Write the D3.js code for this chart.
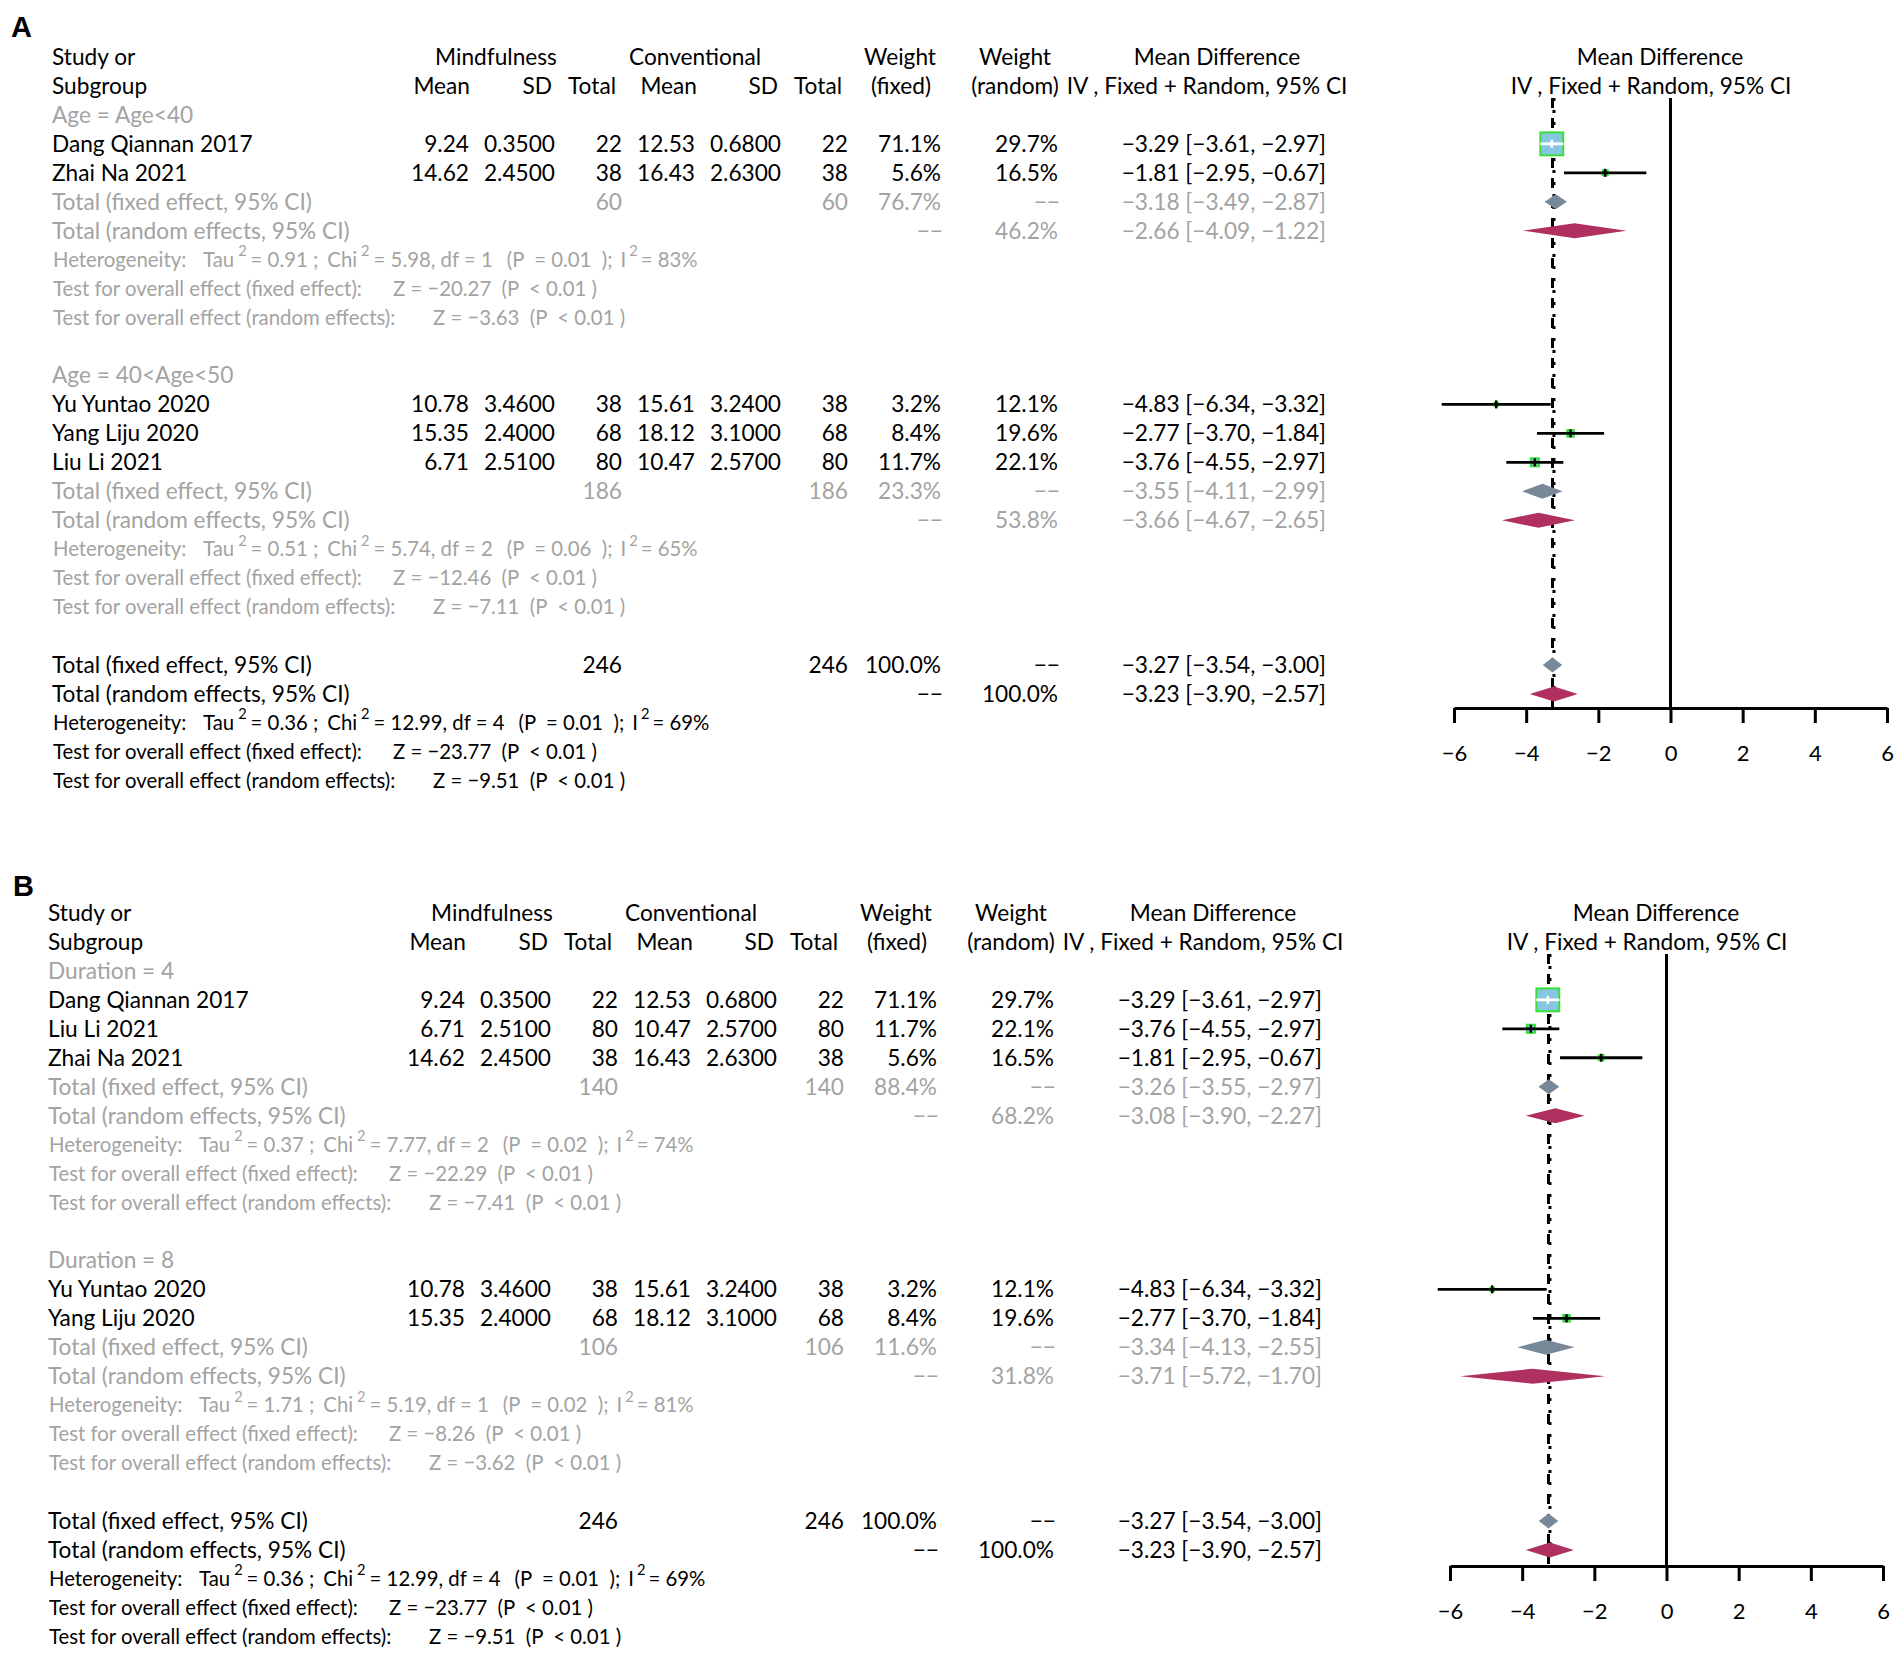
<!DOCTYPE html>
<html>
<head>
<meta charset="utf-8">
<script src="https://cdn.jsdelivr.net/npm/d3@7"></script>
<style>
  body { margin: 0; background: #fff; }
  svg { display: block; }
</style>
</head>
<body>
<svg id="chart"></svg>
<script>
// ---- study level data ----
const studies      = ["Dang Qiannan 2017", "Zhai Na 2021", "Yu Yuntao 2020", "Yang Liju 2020", "Liu Li 2021"];
const mindMean     = [9.24, 14.62, 10.78, 15.35, 6.71];
const mindSD       = [0.35, 2.45, 3.46, 2.40, 2.51];
const mindTotal    = [22, 38, 38, 68, 80];
const convMean     = [12.53, 16.43, 15.61, 18.12, 10.47];
const convSD       = [0.68, 2.63, 3.24, 3.10, 2.57];
const convTotal    = [22, 38, 38, 68, 80];
const weightFixed  = [71.1, 5.6, 3.2, 8.4, 11.7];
const weightRandom = [29.7, 16.5, 12.1, 19.6, 22.1];
const meanDiff     = [-3.29, -1.81, -4.83, -2.77, -3.76];
const ciLower      = [-3.61, -2.95, -6.34, -3.70, -4.55];
const ciUpper      = [-2.97, -0.67, -3.32, -1.84, -2.97];

// ---- panel A: subgroups by age ----
const groupLabelsA  = ["Age = Age<40", "Age = 40<Age<50"];
const groupMembersA = [[0, 1], [2, 3, 4]];
const groupTotalA   = [60, 186];
const groupWFixedA  = [76.7, 23.3];
const groupWRandomA = [46.2, 53.8];
const groupFixedA   = [[-3.18, -3.49, -2.87], [-3.55, -4.11, -2.99]];
const groupRandomA  = [[-2.66, -4.09, -1.22], [-3.66, -4.67, -2.65]];
const groupHetA     = [[0.91, 5.98, 1, 0.01, 83], [0.51, 5.74, 2, 0.06, 65]];
const groupZA       = [[-20.27, -3.63], [-12.46, -7.11]];

// ---- panel B: subgroups by duration ----
const groupLabelsB  = ["Duration = 4", "Duration = 8"];
const groupMembersB = [[0, 4, 1], [2, 3]];
const groupTotalB   = [140, 106];
const groupWFixedB  = [88.4, 11.6];
const groupWRandomB = [68.2, 31.8];
const groupFixedB   = [[-3.26, -3.55, -2.97], [-3.34, -4.13, -2.55]];
const groupRandomB  = [[-3.08, -3.90, -2.27], [-3.71, -5.72, -1.70]];
const groupHetB     = [[0.37, 7.77, 2, 0.02, 74], [1.71, 5.19, 1, 0.02, 81]];
const groupZB       = [[-22.29, -7.41], [-8.26, -3.62]];

// ---- overall (same in both panels) ----
const overallTotal  = 246;
const overallFixed  = [-3.27, -3.54, -3.00];
const overallRandom = [-3.23, -3.90, -2.57];
const overallHet    = [0.36, 12.99, 4, 0.01, 69];
const overallZ      = [-23.77, -9.51];

const xTicks = [-6, -4, -2, 0, 2, 4, 6];

// ---- setup ----
const W = 1904, H = 1654;
const svg = d3.select("#chart").attr("width", W).attr("height", H);
svg.append("rect").attr("width", W).attr("height", H).attr("fill", "#fff");

const FONT = "Lato, 'Open Sans', sans-serif";
const GREY = "#a3a3a3";
const ROW = 28.95;

// size the fonts so that line lengths match the original layout
function measure(str, size) {
    const t = svg.append("text").attr("font-family", FONT).attr("font-size", size)
        .style("white-space", "pre").text(str);
    const w = t.node().getComputedTextLength();
    t.remove();
    return w;
}
const mainSize  = 23 * 260 / measure("Total (fixed effect, 95% CI)", 23);
const smallSize = 18 * 309 / measure("Test for overall effect (fixed effect):", 18);
const supSize   = smallSize * 0.72;

const f2 = d3.format(".2f"), f4 = d3.format(".4f"), f1 = d3.format(".1f");
const pct = v => f1(v) + "%";
const ciText = (e, l, h) => `${f2(e)} [${f2(l)}, ${f2(h)}]`;

function drawPanel(p) {
    const g = svg.append("g").attr("transform", `translate(${p.dx},0)`);
    const rowY = i => p.top + i * ROW;

    const txt = (x, i, s, anchor, color, size) => g.append("text")
        .attr("x", x).attr("y", rowY(i)).attr("dy", "0.35em")
        .attr("text-anchor", anchor || "start")
        .attr("font-family", FONT)
        .attr("font-size", size || mainSize)
        .attr("fill", color || "#000")
        .style("white-space", "pre")
        .text(s);

    const x = d3.scaleLinear().domain([-6, 6]).range([1454, 1887]);

    // panel letter
    g.append("text").attr("x", p.letterX).attr("y", p.letterY)
        .attr("font-family", "'Liberation Sans', Arial, sans-serif")
        .attr("font-weight", "bold").attr("font-size", 29).text(p.letter);

    // header
    txt(52, 0, "Study or"); txt(52, 1, "Subgroup");
    txt(496, 0, "Mindfulness", "middle");
    txt(470, 1, "Mean", "end"); txt(552, 1, "SD", "end"); txt(616, 1, "Total", "end");
    txt(695, 0, "Conventional", "middle");
    txt(697, 1, "Mean", "end"); txt(778, 1, "SD", "end"); txt(842, 1, "Total", "end");
    txt(900, 0, "Weight", "middle"); txt(901, 1, "(fixed)", "middle");
    txt(1015, 0, "Weight", "middle"); txt(1015, 1, "(random)", "middle");
    txt(1217, 0, "Mean Difference", "middle");
    txt(1207, 1, "IV , Fixed + Random, 95% CI", "middle");
    txt(1660, 0, "Mean Difference", "middle");
    txt(1651, 1, "IV , Fixed + Random, 95% CI", "middle");

    const plotTop = rowY(0) + 41;
    const lines = g.append("g");
    const marks = g.append("g");

    const diamond = (est, lo, hi, i, fill) => marks.append("path")
        .attr("d", `M${x(lo)},${rowY(i)}L${x(est)},${rowY(i) - 7.5}L${x(hi)},${rowY(i)}L${x(est)},${rowY(i) + 7.5}Z`)
        .attr("fill", fill);

    // heterogeneity line, laid out piece by piece like the original
    const hetLine = (i, h, color) => {
        const pieces = [
            { s: "Heterogeneity:", at: 53 },
            { s: "Tau", at: 203 },
            { s: "2", gap: 4, sup: true },
            { s: `= ${f2(h[0])} ;`, gap: 4 },
            { s: "Chi", gap: 9 },
            { s: "2", gap: 4, sup: true },
            { s: `= ${f2(h[1])}, df = ${h[2]}`, gap: 4 },
            { s: `(P  = ${f2(h[3])}  );`, gap: 14 },
            { s: "I", gap: 8 },
            { s: "2", gap: 3, sup: true },
            { s: `= ${h[4]}%`, gap: 3 }
        ];
        let cx = 0;
        pieces.forEach(pc => {
            const size = pc.sup ? supSize : smallSize;
            const xx = pc.at !== undefined ? pc.at : cx + pc.gap;
            const el = g.append("text")
                .attr("x", xx)
                .attr("y", pc.sup ? rowY(i) - 0.42 * smallSize : rowY(i))
                .attr("dy", "0.35em")
                .attr("font-family", FONT).attr("font-size", size).attr("fill", color)
                .style("white-space", "pre").text(pc.s);
            cx = xx + el.node().getComputedTextLength();
        });
    };

    const testLines = (i, z, color) => {
        txt(53, i, "Test for overall effect (fixed effect):", "start", color, smallSize);
        txt(393, i, `Z = ${f2(z[0])}  (P  < 0.01 )`, "start", color, smallSize);
        txt(53, i + 1, "Test for overall effect (random effects):", "start", color, smallSize);
        txt(433, i + 1, `Z = ${f2(z[1])}  (P  < 0.01 )`, "start", color, smallSize);
    };

    let r = 2;
    p.groups.forEach((label, gi) => {
        txt(52, r, label, "start", GREY);
        r++;
        p.members[gi].forEach(s => {
            txt(52, r, studies[s]);
            txt(469, r, f2(mindMean[s]), "end");
            txt(555, r, f4(mindSD[s]), "end");
            txt(622, r, mindTotal[s], "end");
            txt(695, r, f2(convMean[s]), "end");
            txt(781, r, f4(convSD[s]), "end");
            txt(848, r, convTotal[s], "end");
            txt(941, r, pct(weightFixed[s]), "end");
            txt(1058, r, pct(weightRandom[s]), "end");
            txt(1326, r, ciText(meanDiff[s], ciLower[s], ciUpper[s]), "end");

            // study marker: box sized by fixed weight, CI whisker
            const y = rowY(r), size = 2.95 * Math.sqrt(weightFixed[s]);
            const x0 = x(ciLower[s]), x1 = x(ciUpper[s]), xc = x(meanDiff[s]);
            const inside = (x1 - x0) < size;
            marks.append("line").attr("x1", x0).attr("x2", x1).attr("y1", y).attr("y2", y)
                .attr("stroke", "#000").attr("stroke-width", 2.8);
            marks.append("rect").attr("x", xc - size / 2 + 1).attr("y", y - size / 2 + 1)
                .attr("width", Math.max(size - 2, 1)).attr("height", Math.max(size - 2, 1))
                .attr("fill", "#86c6e2").attr("stroke", "#36e036").attr("stroke-width", 2);
            const inner = inside ? "#fff" : "#000";
            marks.append("line").attr("x1", inside ? x0 : xc - size / 2).attr("x2", inside ? x1 : xc + size / 2)
                .attr("y1", y).attr("y2", y).attr("stroke", inner).attr("stroke-width", 2.8);
            marks.append("line").attr("x1", xc).attr("x2", xc).attr("y1", y - 4).attr("y2", y + 4)
                .attr("stroke", inner).attr("stroke-width", 2.5);
            r++;
        });
        const fx = p.fixed[gi], rd = p.random[gi];
        txt(52, r, "Total (fixed effect, 95% CI)", "start", GREY);
        txt(622, r, p.total[gi], "end", GREY);
        txt(848, r, p.total[gi], "end", GREY);
        txt(941, r, pct(p.wFixed[gi]), "end", GREY);
        txt(1060, r, "−−", "end", GREY);
        txt(1326, r, ciText(fx[0], fx[1], fx[2]), "end", GREY);
        diamond(fx[0], fx[1], fx[2], r, "#778899");
        r++;
        txt(52, r, "Total (random effects, 95% CI)", "start", GREY);
        txt(943, r, "−−", "end", GREY);
        txt(1058, r, pct(p.wRandom[gi]), "end", GREY);
        txt(1326, r, ciText(rd[0], rd[1], rd[2]), "end", GREY);
        diamond(rd[0], rd[1], rd[2], r, "#b03060");
        r++;
        hetLine(r, p.het[gi], GREY);
        r++;
        testLines(r, p.z[gi], GREY);
        r += 3;
    });

    // overall
    txt(52, r, "Total (fixed effect, 95% CI)");
    txt(622, r, overallTotal, "end");
    txt(848, r, overallTotal, "end");
    txt(941, r, "100.0%", "end");
    txt(1060, r, "−−", "end");
    txt(1326, r, ciText(...overallFixed), "end");
    diamond(...overallFixed, r, "#778899");
    r++;
    txt(52, r, "Total (random effects, 95% CI)");
    txt(943, r, "−−", "end");
    txt(1058, r, "100.0%", "end");
    txt(1326, r, ciText(...overallRandom), "end");
    diamond(...overallRandom, r, "#b03060");
    r++;
    hetLine(r, overallHet, "#000");
    r++;
    testLines(r, overallZ, "#000");

    // reference lines: zero, fixed (dashed), random (dotted)
    lines.append("line").attr("x1", x(0)).attr("x2", x(0)).attr("y1", plotTop).attr("y2", p.axisY)
        .attr("stroke", "#000").attr("stroke-width", 3);
    lines.append("line").attr("x1", x(overallFixed[0])).attr("x2", x(overallFixed[0]))
        .attr("y1", plotTop).attr("y2", p.axisY)
        .attr("stroke", "#000").attr("stroke-width", 3).attr("stroke-dasharray", "10,10");
    lines.append("line").attr("x1", x(overallRandom[0])).attr("x2", x(overallRandom[0]))
        .attr("y1", plotTop).attr("y2", p.axisY)
        .attr("stroke", "#000").attr("stroke-width", 3).attr("stroke-dasharray", "3,9");

    // x axis
    const axis = g.append("g").attr("transform", `translate(0,${p.axisY})`)
        .call(d3.axisBottom(x).tickValues(xTicks).tickSize(15).tickSizeOuter(0).tickPadding(22).tickFormat(d3.format("")));
    axis.select(".domain").attr("stroke", "#000").attr("stroke-width", 3);
    axis.selectAll(".tick line").attr("stroke", "#000").attr("stroke-width", 3);
    axis.selectAll(".tick text").attr("font-family", FONT).attr("font-size", mainSize * 0.97).attr("fill", "#000");
}

drawPanel({
    letter: "A", letterX: 11, letterY: 37, dx: 0, top: 57, axisY: 708,
    groups: groupLabelsA, members: groupMembersA, total: groupTotalA,
    wFixed: groupWFixedA, wRandom: groupWRandomA, fixed: groupFixedA, random: groupRandomA,
    het: groupHetA, z: groupZA
});
drawPanel({
    letter: "B", letterX: 17, letterY: 896, dx: -4, top: 913, axisY: 1566,
    groups: groupLabelsB, members: groupMembersB, total: groupTotalB,
    wFixed: groupWFixedB, wRandom: groupWRandomB, fixed: groupFixedB, random: groupRandomB,
    het: groupHetB, z: groupZB
});
</script>
</body>
</html>
